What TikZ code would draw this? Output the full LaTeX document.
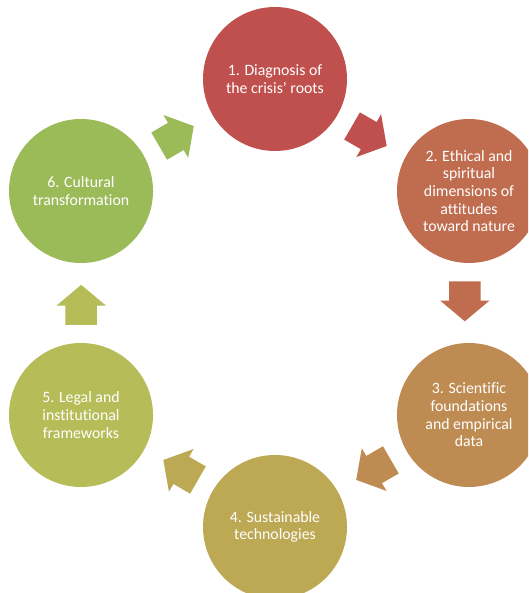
\documentclass[tikz,border=0pt]{standalone}
\usepackage{fontspec}
\setmainfont[Ligatures=CommonOff]{Carlito}
\usetikzlibrary{shapes.arrows}
% colour ramp from red to green around the cycle
\definecolor{c1}{RGB}{192,80,77}
\definecolor{c2}{RGB}{191,108,79}
\definecolor{c3}{RGB}{190,140,82}
\definecolor{c4}{RGB}{189,168,84}
\definecolor{c5}{RGB}{182,188,87}
\definecolor{c6}{RGB}{155,187,89}
\begin{document}
\begin{tikzpicture}[x=1pt,y=1pt,
  stage/.style={circle, fill=#1, draw=none, minimum size=144pt, inner sep=0pt,
    text=white, align=center, font=\fontsize{15.8}{17.6}\selectfont},
  flow/.style={single arrow, fill=#1, draw=none, minimum height=40pt,
    minimum width=49pt, single arrow head extend=9pt,
    single arrow tip angle=100, inner xsep=0pt, inner ysep=15.5pt}]
\useasboundingbox (0,0) rectangle (528,593);
\clip (0,0) rectangle (528,593);
\begin{scope}[shift={(275,290)}]
  % the six stages
  \node[stage=c1] (s1) at (90:224)  {1. Diagnosis of\\the crisis’ roots};
  \node[stage=c2] (s2) at (30:224)  {2. Ethical and\\spiritual\\dimensions of\\attitudes\\toward nature};
  \node[stage=c3] (s3) at (-30:224) {3. Scientific\\foundations\\and empirical\\data};
  \node[stage=c4] (s4) at (-90:224) {4. Sustainable\\technologies};
  \node[stage=c5] (s5) at (-150:224){5. Legal and\\institutional\\frameworks};
  \node[stage=c6] (s6) at (150:224) {6. Cultural\\transformation};
  % block arrows between stages, clockwise
  \node[flow=c1, rotate=-30]  (a12) at (62.5:192)   {};
  \node[flow=c2, rotate=-90]  (a23) at (2.5:190)    {};
  \node[flow=c3, rotate=-150] (a34) at (-57.5:194)  {};
  \node[flow=c4, rotate=150]  (a45) at (-117.5:192) {};
  \node[flow=c5, rotate=90]   (a56) at (182.5:194)  {};
  \node[flow=c6, rotate=30]   (a61) at (122.5:194)  {};
\end{scope}
\end{tikzpicture}
\end{document}
